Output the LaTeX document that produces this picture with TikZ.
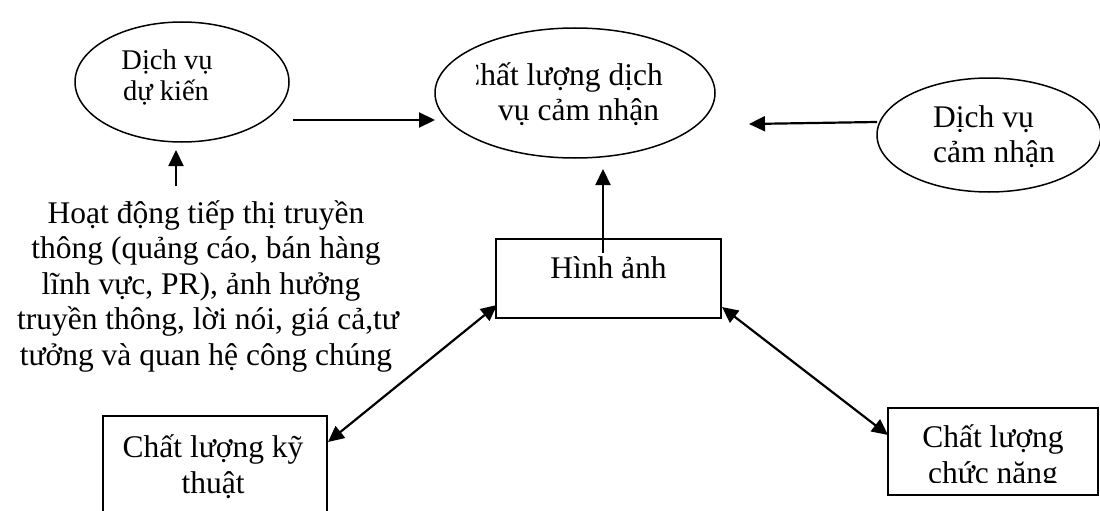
\documentclass[tikz,border=0pt]{standalone}
\usepackage{fontspec}
\setmainfont{Liberation Serif}
\usetikzlibrary{arrows.meta,shapes.geometric}
\begin{document}
\begin{tikzpicture}[x=1pt,y=-1pt,
  oval/.style={draw, ellipse, line width=1.5pt, inner sep=0pt},
  boxnode/.style={draw, rectangle, line width=2pt, inner sep=0pt},
  txt/.style={font=\fontsize{31.5}{35.5}\selectfont, inner sep=0pt, anchor=base},
  smalltxt/.style={font=\fontsize{28.5}{30}\selectfont, inner sep=0pt, anchor=base},
  arr/.style={line width=2.2pt, -{Triangle[length=16pt,width=15pt]}},
  darr/.style={line width=2.2pt, {Triangle[length=16pt,width=15pt]}-{Triangle[length=16pt,width=15pt]}},
]
\useasboundingbox (0,0) rectangle (1100,511);
\clip (0,0) rectangle (1100,511);

% ellipses
\node[oval, minimum width=214pt, minimum height=120pt] (e1) at (182,82) {};
\node[oval, minimum width=280pt, minimum height=130pt] (e2) at (575,93) {};
\node[oval, minimum width=224pt, minimum height=114pt] (e3) at (989,135) {};

% boxes
\node[boxnode, minimum width=225pt, minimum height=79pt] (hinh) at (608.5,278.5) {};
\node[boxnode, minimum width=224pt, minimum height=114pt] (kt) at (215,473) {};
\node[boxnode, minimum width=210pt, minimum height=87pt] (cn) at (993,451.5) {};

% texts
\node[smalltxt] (e1a) at (167,70) {Dịch vụ};
\node[smalltxt] (e1b) at (166,100) {dự kiến};

\begin{scope}
  \clip (476,0) rectangle (800,200);
  \node[txt, anchor=base east] (e2a) at (663,85) {Chất lượng dịch};
\end{scope}
\node[txt, anchor=base west] (e2b) at (498,120) {vụ cảm nhận};

\node[txt, anchor=base west] (e3a) at (933,127) {Dịch vụ};
\node[txt, anchor=base west] (e3b) at (933,162) {cảm nhận};

\node[txt] (t1) at (206,223) {Hoạt động tiếp thị truyền};
\node[txt] (t2) at (206,258.5) {thông (quảng cáo, bán hàng};
\node[txt] (t3) at (201,294) {lĩnh vực, PR), ảnh hưởng};
\node[txt] (t4) at (208,329.5) {truyền thông, lời nói, giá cả,tư};
\node[txt] (t5) at (206,365) {tưởng và quan hệ công chúng};

\node[txt] (ha) at (608.5,278) {Hình ảnh};

\node[txt] (kt1) at (213,457) {Chất lượng kỹ};
\node[txt] (kt2) at (213,493) {thuật};

\node[txt] (cn1) at (993,447) {Chất lượng};
\begin{scope}
  \clip (880,400) rectangle (1100,482);
  \node[txt] (cn2) at (993,483) {chức năng};
\end{scope}

% connector end points
\coordinate (a1s) at (293,120);
\coordinate (a1e) at (435,120);
\coordinate (a2s) at (877,122);
\coordinate (a2e) at (749,124);
\coordinate (a3s) at (176,186);
\coordinate (a3e) at (176,150);
\coordinate (a4s) at (603,253);
\coordinate (a4e) at (603,169);
\coordinate (a5s) at (497,305);
\coordinate (a5e) at (328,442);
\coordinate (a6s) at (722,307);
\coordinate (a6e) at (888,435);

\draw[arr] (a1s) -- (a1e);
\draw[arr] (a2s) -- (a2e);
\draw[arr] (a3s) -- (a3e);
\draw[arr] (a4s) -- (a4e);
\draw[darr] (a5s) -- (a5e);
\draw[darr] (a6s) -- (a6e);
\end{tikzpicture}
\end{document}
